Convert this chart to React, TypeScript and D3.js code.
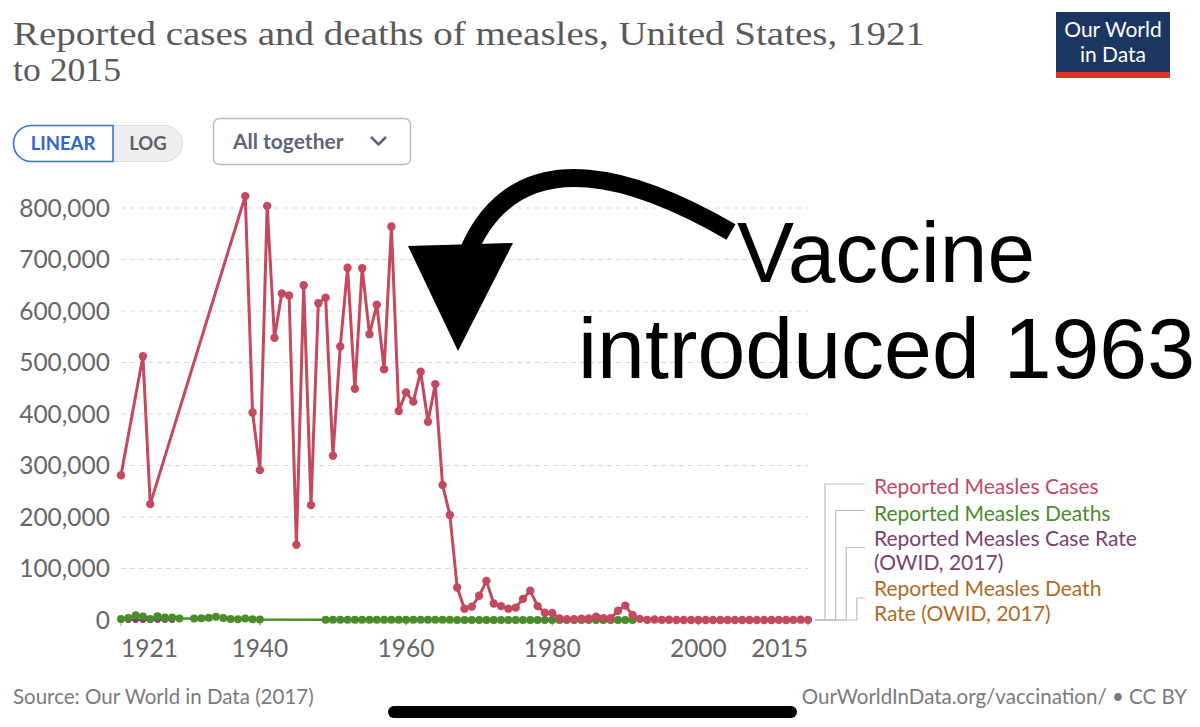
import { useRef, useEffect } from "react";
import * as d3 from "d3";

// Reported measles cases, United States
const caseYears = [
  1921, 1924, 1925, 1938, 1939, 1940, 1941, 1942, 1943, 1944, 1945, 1946, 1947, 1948, 1949,
  1950, 1951, 1952, 1953, 1954, 1955, 1956, 1957, 1958, 1959, 1960, 1961, 1962, 1963, 1964,
  1965, 1966, 1967, 1968, 1969, 1970, 1971, 1972, 1973, 1974, 1975, 1976, 1977, 1978, 1979,
  1980, 1981, 1982, 1983, 1984, 1985, 1986, 1987, 1988, 1989, 1990, 1991, 1992, 1993, 1994,
  1995, 1996, 1997, 1998, 1999, 2000, 2001, 2002, 2003, 2004, 2005, 2006, 2007, 2008, 2009,
  2010, 2011, 2012, 2013, 2014, 2015
];
const caseValues = [
  281000, 512000, 225000, 823000, 403000, 291000, 804000, 548000, 634000, 630000, 146000, 650000, 223000, 615000, 626000,
  319000, 531000, 684000, 449000, 683000, 555000, 612000, 487000, 764000, 406000, 442000, 424000, 482000, 385000, 458000,
  262000, 204000, 63000, 22000, 26000, 47000, 76000, 32000, 27000, 22000, 24000, 41000, 57000, 27000, 14000,
  13500, 3100, 1700, 1500, 2600, 2800, 6300, 3700, 3400, 18000, 28000, 9600, 2200, 310, 960,
  310, 510, 140, 100, 100, 86, 116, 44, 56, 37, 66, 55, 43, 140, 71,
  63, 220, 55, 187, 667, 188
];

// Reported measles deaths
const deathYears = [
  1921, 1922, 1923, 1924, 1925, 1926, 1927, 1928, 1929, 1931, 1932, 1933, 1934, 1935, 1936,
  1937, 1938, 1939, 1940, 1949, 1950, 1951, 1952, 1953, 1954, 1955, 1956, 1957, 1958, 1959,
  1960, 1961, 1962, 1963, 1964, 1965, 1966, 1967, 1968, 1969, 1970, 1971, 1972, 1973, 1974,
  1975, 1976, 1977, 1978, 1979, 1980, 1981, 1982, 1983, 1984, 1985, 1986, 1987, 1988, 1989,
  1990, 1991
];
const deathValues = [
  2000, 4000, 9000, 7000, 2000, 7500, 5000, 5000, 3000, 3000, 3500, 4500, 6500, 4000, 2000,
  1500, 3000, 1500, 1000, 600, 470, 680, 620, 460, 520, 350, 530, 390, 550, 390,
  380, 430, 410, 360, 420, 280, 260, 80, 24, 41, 89, 90, 24, 23, 20,
  20, 12, 15, 11, 6, 11, 2, 2, 4, 1, 4, 2, 2, 3, 41,
  64, 27
];

// Rates per 100,000 (OWID, 2017) - invisible at this scale, sit on the zero line
const rateYears = [1921, 1922, 1923, 1924, 1925, 1926, 1927, 1928];
const caseRateValues = [260, 220, 390, 450, 195, 380, 305, 480];
const deathRateValues = [4.9, 7.2, 10.1, 6.2, 3.4, 8.5, 4.3, 5.5];

const yTicks = [0, 100000, 200000, 300000, 400000, 500000, 600000, 700000, 800000];
const xTicks = [1921, 1940, 1960, 1980, 2000, 2015];

const seriesNames = [
  ["Reported Measles Cases"],
  ["Reported Measles Deaths"],
  ["Reported Measles Case Rate", "(OWID, 2017)"],
  ["Reported Measles Death", "Rate (OWID, 2017)"]
];
const seriesColors = ["#c4495e", "#4b8c2a", "#7b3f6c", "#b36a1f"];

export default function App() {
  const ref = useRef(null);

  useEffect(() => {
    const svg = d3.select(ref.current);
    svg.selectAll("*").remove();

    const width = 1200;
    const height = 727;
    const margin = { top: 208, right: 392, bottom: 107, left: 121 };
    const sans = "Lato, 'Noto Sans', sans-serif";

    svg.attr("width", width).attr("height", height);

    svg.append("rect").attr("width", width).attr("height", height).attr("fill", "#fff");

    const x = d3.scaleLinear()
      .domain([1921, 2015])
      .range([margin.left, width - margin.right]);

    const y = d3.scaleLinear()
      .domain([0, 800000])
      .range([height - margin.bottom, margin.top]);

    // title
    const title = svg.append("text")
      .attr("font-family", "'Liberation Serif', 'DejaVu Serif', serif")
      .attr("font-size", 34)
      .attr("fill", "#5a5a5a");
    title.append("tspan").attr("x", 13).attr("y", 45)
      .attr("textLength", 912).attr("lengthAdjust", "spacingAndGlyphs")
      .text("Reported cases and deaths of measles, United States, 1921");
    title.append("tspan").attr("x", 13).attr("y", 81)
      .attr("textLength", 108).attr("lengthAdjust", "spacingAndGlyphs")
      .text("to 2015");

    // logo
    svg.append("rect").attr("x", 1056).attr("y", 12).attr("width", 114).attr("height", 61).attr("fill", "#1b3660");
    svg.append("rect").attr("x", 1056).attr("y", 72).attr("width", 114).attr("height", 6).attr("fill", "#d03b2b");
    svg.append("text").attr("x", 1113).attr("y", 37).attr("text-anchor", "middle")
      .attr("font-family", sans).attr("font-size", 21).attr("fill", "#fff").text("Our World");
    svg.append("text").attr("x", 1113).attr("y", 62).attr("text-anchor", "middle")
      .attr("font-family", sans).attr("font-size", 21).attr("fill", "#fff").text("in Data");

    // linear / log toggle
    svg.append("rect").attr("x", 13.5).attr("y", 125.5).attr("width", 169).attr("height", 36).attr("rx", 18)
      .attr("fill", "#efefef").attr("stroke", "#dcdcdc");
    svg.append("path").attr("d", "M113,125.5 H31.5 A18,18 0 0 0 31.5,161.5 H113 Z")
      .attr("fill", "#fff").attr("stroke", "#3a6fd6").attr("stroke-width", 1.6);
    svg.append("text").attr("x", 63).attr("y", 149.5).attr("text-anchor", "middle")
      .attr("font-family", sans).attr("font-weight", 700).attr("font-size", 18.5).attr("fill", "#2f64cc").text("LINEAR");
    svg.append("text").attr("x", 148).attr("y", 149.5).attr("text-anchor", "middle")
      .attr("font-family", sans).attr("font-weight", 700).attr("font-size", 18.5).attr("fill", "#5b6171").text("LOG");

    // dropdown
    svg.append("rect").attr("x", 213.5).attr("y", 118.5).attr("width", 197).attr("height", 46).attr("rx", 6)
      .attr("fill", "#fff").attr("stroke", "#b6bac6").attr("stroke-width", 1.4);
    svg.append("text").attr("x", 233).attr("y", 149)
      .attr("font-family", sans).attr("font-weight", 700).attr("font-size", 21).attr("fill", "#5b6478").text("All together");
    svg.append("path").attr("d", "M371,137 L378.5,144.5 L386,137")
      .attr("fill", "none").attr("stroke", "#5b6478").attr("stroke-width", 2.6);

    // grid
    svg.append("g")
      .selectAll("line")
      .data(yTicks)
      .join("line")
      .attr("x1", margin.left)
      .attr("x2", x(2015))
      .attr("y1", d => y(d))
      .attr("y2", d => y(d))
      .attr("stroke", "#d9d9d9")
      .attr("stroke-dasharray", "5,4");

    svg.append("g")
      .selectAll("text")
      .data(yTicks)
      .join("text")
      .attr("x", 110)
      .attr("y", d => y(d) + 8.5)
      .attr("text-anchor", "end")
      .attr("font-family", sans)
      .attr("font-size", 24.5)
      .attr("fill", "#666")
      .text(d => d3.format(",")(d));

    // x axis
    const xg = svg.append("g");
    xg.selectAll("line")
      .data(xTicks)
      .join("line")
      .attr("x1", d => x(d))
      .attr("x2", d => x(d))
      .attr("y1", y(0))
      .attr("y2", y(0) + 6)
      .attr("stroke", "#999");
    xg.selectAll("text")
      .data(xTicks)
      .join("text")
      .attr("x", d => x(d))
      .attr("y", 657)
      .attr("text-anchor", (d, i) => i === 0 ? "start" : i === xTicks.length - 1 ? "end" : "middle")
      .attr("font-family", sans)
      .attr("font-size", 24.5)
      .attr("fill", "#666")
      .text(d => d);

    // series
    const drawSeries = (years, values, color, lw, r) => {
      const pts = years.map((yr, i) => ({ year: yr, value: values[i] }));
      const line = d3.line().x(d => x(d.year)).y(d => y(d.value));
      svg.append("path")
        .datum(pts)
        .attr("d", line)
        .attr("fill", "none")
        .attr("stroke", color)
        .attr("stroke-width", lw)
        .attr("stroke-linejoin", "round");
      svg.append("g")
        .selectAll("circle")
        .data(pts)
        .join("circle")
        .attr("cx", d => x(d.year))
        .attr("cy", d => y(d.value))
        .attr("r", r)
        .attr("fill", color);
    };

    drawSeries(rateYears, deathRateValues, seriesColors[3], 2, 3);
    drawSeries(rateYears, caseRateValues, seriesColors[2], 2, 3);
    drawSeries(deathYears, deathValues, seriesColors[1], 2.4, 4);
    drawSeries(caseYears, caseValues, seriesColors[0], 3, 4.2);

    // legend with connectors
    const legendX = 874;
    const legendTops = [494, 520.5, 545.5, 596];
    const lineGap = 24.6;
    const lg = svg.append("g");
    seriesNames.forEach((lines, i) => {
      const base = legendTops[i];
      const midY = lines.length === 1 ? base - 10 : base + 2;
      const vx = 825 + i * 10.6;
      lg.append("path")
        .attr("d", `M${x(2015) + 7},${y(0)} H${vx} V${midY} H865`)
        .attr("fill", "none")
        .attr("stroke", "#bdbdbd")
        .attr("stroke-width", 1.2);
      const t = lg.append("text")
        .attr("font-family", sans)
        .attr("font-size", 21)
        .attr("fill", seriesColors[i]);
      lines.forEach((s, j) => {
        t.append("tspan").attr("x", legendX).attr("y", base + j * lineGap).text(s);
      });
    });

    // footer
    svg.append("text").attr("x", 13).attr("y", 704)
      .attr("font-family", sans).attr("font-size", 20.5).attr("fill", "#7a7a7a")
      .text("Source: Our World in Data (2017)");
    svg.append("text").attr("x", 1187).attr("y", 704).attr("text-anchor", "end")
      .attr("font-family", sans).attr("font-size", 20.5).attr("fill", "#7a7a7a")
      .text("OurWorldInData.org/vaccination/ • CC BY");
    svg.append("rect").attr("x", 388).attr("y", 706).attr("width", 409).attr("height", 12).attr("rx", 6)
      .attr("fill", "#000");

    // annotation
    svg.append("path")
      .attr("d", "M731,232 C650,185 520,130 468,252")
      .attr("fill", "none")
      .attr("stroke", "#000")
      .attr("stroke-width", 18);
    svg.append("path")
      .attr("d", "M408,246 L513,243 L458,351 Z")
      .attr("fill", "#000");
    svg.append("text").attr("x", 737).attr("y", 282)
      .attr("font-family", "'Liberation Sans', Arial, sans-serif").attr("font-size", 86)
      .attr("textLength", 298).attr("lengthAdjust", "spacingAndGlyphs")
      .attr("fill", "#000").text("Vaccine");
    svg.append("text").attr("x", 578).attr("y", 378)
      .attr("font-family", "'Liberation Sans', Arial, sans-serif").attr("font-size", 86)
      .attr("textLength", 617).attr("lengthAdjust", "spacingAndGlyphs")
      .attr("fill", "#000").text("introduced 1963");
  }, []);

  return <svg ref={ref} style={{ position: "absolute", left: 0, top: 0 }}></svg>;
}
